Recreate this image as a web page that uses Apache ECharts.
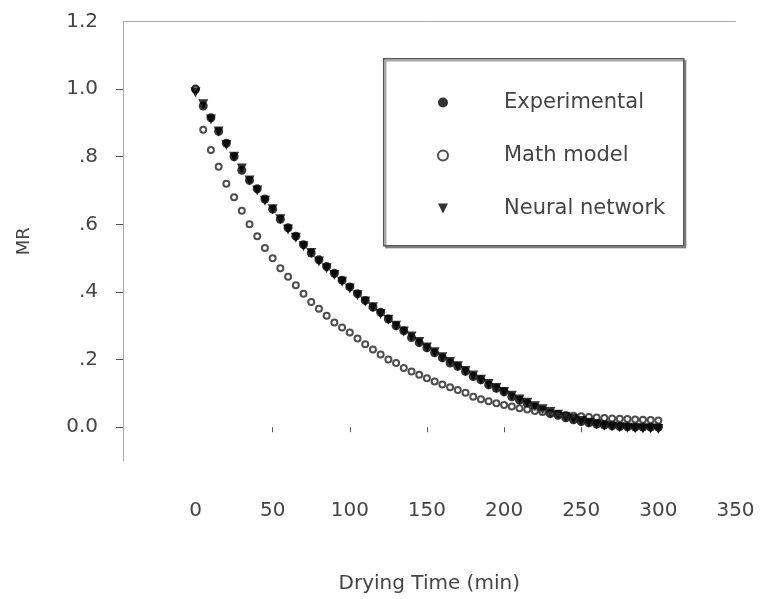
<!DOCTYPE html>
<html>
<head>
<meta charset="utf-8">
<script src="https://cdn.jsdelivr.net/npm/echarts/dist/echarts.min.js"></script>
<style>
  html, body { margin: 0; padding: 0; background: #fff; }
  #main { width: 761px; height: 599px; }
</style>
</head>
<body>
<div id="main"></div>
<script>
// 干燥时间 (min)，每 5 分钟一个点
const times = [0, 5, 10, 15, 20, 25, 30, 35, 40, 45, 50, 55, 60, 65, 70, 75, 80, 85, 90, 95,
  100, 105, 110, 115, 120, 125, 130, 135, 140, 145, 150, 155, 160, 165, 170, 175, 180, 185, 190, 195,
  200, 205, 210, 215, 220, 225, 230, 235, 240, 245, 250, 255, 260, 265, 270, 275, 280, 285, 290, 295, 300];

// 实验值
const experimental = [1.00, 0.95, 0.915, 0.875, 0.84, 0.80, 0.76, 0.73, 0.705, 0.675, 0.645, 0.615, 0.59, 0.565, 0.54, 0.515, 0.495, 0.475, 0.455, 0.435,
  0.415, 0.395, 0.375, 0.355, 0.34, 0.32, 0.30, 0.285, 0.265, 0.25, 0.235, 0.22, 0.205, 0.19, 0.18, 0.165, 0.15, 0.14, 0.125, 0.115,
  0.105, 0.09, 0.08, 0.07, 0.06, 0.05, 0.04, 0.035, 0.028, 0.022, 0.017, 0.013, 0.009, 0.006, 0.004, 0.002, 0.001, 0.0, 0.0, 0.0, 0.0];

// 数学模型
const mathModel = [1.00, 0.88, 0.82, 0.77, 0.72, 0.68, 0.64, 0.60, 0.565, 0.53, 0.50, 0.47, 0.445, 0.42, 0.395, 0.37, 0.35, 0.33, 0.31, 0.295,
  0.28, 0.262, 0.245, 0.23, 0.215, 0.20, 0.19, 0.175, 0.165, 0.155, 0.145, 0.135, 0.126, 0.118, 0.11, 0.102, 0.09, 0.083, 0.077, 0.071,
  0.066, 0.061, 0.056, 0.052, 0.048, 0.045, 0.042, 0.039, 0.036, 0.034, 0.032, 0.030, 0.029, 0.027, 0.026, 0.025, 0.024, 0.023, 0.022, 0.021, 0.020];

// 神经网络
const neuralNetwork = [0.99, 0.955, 0.91, 0.875, 0.835, 0.80, 0.765, 0.73, 0.70, 0.67, 0.645, 0.615, 0.585, 0.56, 0.535, 0.515, 0.49, 0.47, 0.45, 0.43,
  0.41, 0.39, 0.372, 0.355, 0.335, 0.318, 0.30, 0.283, 0.268, 0.252, 0.236, 0.222, 0.207, 0.193, 0.18, 0.166, 0.153, 0.14, 0.128, 0.116,
  0.104, 0.093, 0.082, 0.072, 0.062, 0.053, 0.045, 0.037, 0.03, 0.024, 0.018, 0.013, 0.009, 0.005, 0.002, 0.0, -0.002, -0.003, -0.004, -0.004, -0.005];

const xTicks = [50, 100, 150, 200, 250, 300];
const xLabels = [0, 50, 100, 150, 200, 250, 300, 350];
const yTicks = [0, 0.2, 0.4, 0.6, 0.8, 1.0];
const yLabels = [0, 0.2, 0.4, 0.6, 0.8, 1.0, 1.2];

const toPairs = (vals) => times.map((t, i) => [t, vals[i]]);

const font = "DejaVu Sans";
const textColor = "#444";

let myChart = echarts.init(document.getElementById("main"));
let option = {
  backgroundColor: "#fff",
  animation: false,
  textStyle: { fontFamily: font },
  grid: {
    left: 123,
    top: 21.5,
    right: 25.5,
    height: 440.5,
  },
  xAxis: [
    {
      type: "value",
      min: -47,
      max: 350,
      name: "Drying Time (min)",
      nameLocation: "middle",
      nameGap: 113,
      nameTextStyle: { fontSize: 20, color: textColor, fontFamily: font },
      axisLine: { show: false },
      axisTick: {
        show: true,
        customValues: xTicks,
        length: 5,
        lineStyle: { color: "#555" },
      },
      axisLabel: {
        customValues: xLabels,
        margin: 40,
        fontSize: 20,
        color: textColor,
        fontFamily: font,
      },
      splitLine: { show: false },
    },
    {
      // 顶部边框线
      type: "value",
      position: "top",
      min: -47,
      max: 350,
      axisLine: { show: true, onZero: false, lineStyle: { color: "#aaa", width: 1 } },
      axisTick: { show: false },
      axisLabel: { show: false },
      splitLine: { show: false },
    },
  ],
  yAxis: {
    type: "value",
    min: -0.1,
    max: 1.2,
    name: "MR",
    nameLocation: "middle",
    nameGap: 90,
    nameTextStyle: { fontSize: 18, color: textColor, fontFamily: font },
    axisLine: { show: true, onZero: false, lineStyle: { color: "#aaa", width: 1 } },
    axisTick: {
      show: true,
      customValues: yTicks,
      length: 7,
      lineStyle: { color: "#555" },
    },
    axisLabel: {
      customValues: yLabels,
      margin: 25,
      fontSize: 20,
      color: textColor,
      fontFamily: font,
      formatter: (v) => {
        if (Math.abs(v) < 1e-9) return "0.0";
        let s = v.toFixed(1);
        return v < 1 ? s.replace(/^0/, "") : s;
      },
    },
    splitLine: { show: false },
  },
  legend: {
    orient: "vertical",
    left: 432,
    top: 87,
    itemWidth: 10,
    itemHeight: 10,
    itemGap: 32,
    selectedMode: false,
    z: 10,
    textStyle: {
      fontSize: 21,
      color: textColor,
      fontFamily: font,
      padding: [0, 0, 0, 51],
    },
    data: ["Experimental", "Math model", "Neural network"],
  },
  graphic: [
    {
      // 图例边框
      type: "rect",
      left: 383,
      top: 58,
      z: 1,
      shape: { width: 300, height: 187 },
      style: {
        fill: "#fff",
        stroke: "#555",
        lineWidth: 1.5,
        shadowColor: "rgba(0,0,0,0.35)",
        shadowOffsetX: 2,
        shadowOffsetY: 2,
      },
    },
  ],
  series: [
    {
      type: "scatter",
      name: "Experimental",
      symbol: "circle",
      symbolSize: 9,
      data: toPairs(experimental),
      itemStyle: { color: "#000" },
    },
    {
      type: "scatter",
      name: "Math model",
      symbol: "emptyCircle",
      symbolSize: 6,
      data: toPairs(mathModel),
      itemStyle: { color: "#222", borderWidth: 1 },
    },
    {
      type: "scatter",
      name: "Neural network",
      symbol: "path://M0,0L10,0L5,10Z",
      symbolSize: 10,
      data: toPairs(neuralNetwork),
      itemStyle: { color: "#000" },
    },
  ],
};
myChart.setOption(option);
</script>
</body>
</html>
